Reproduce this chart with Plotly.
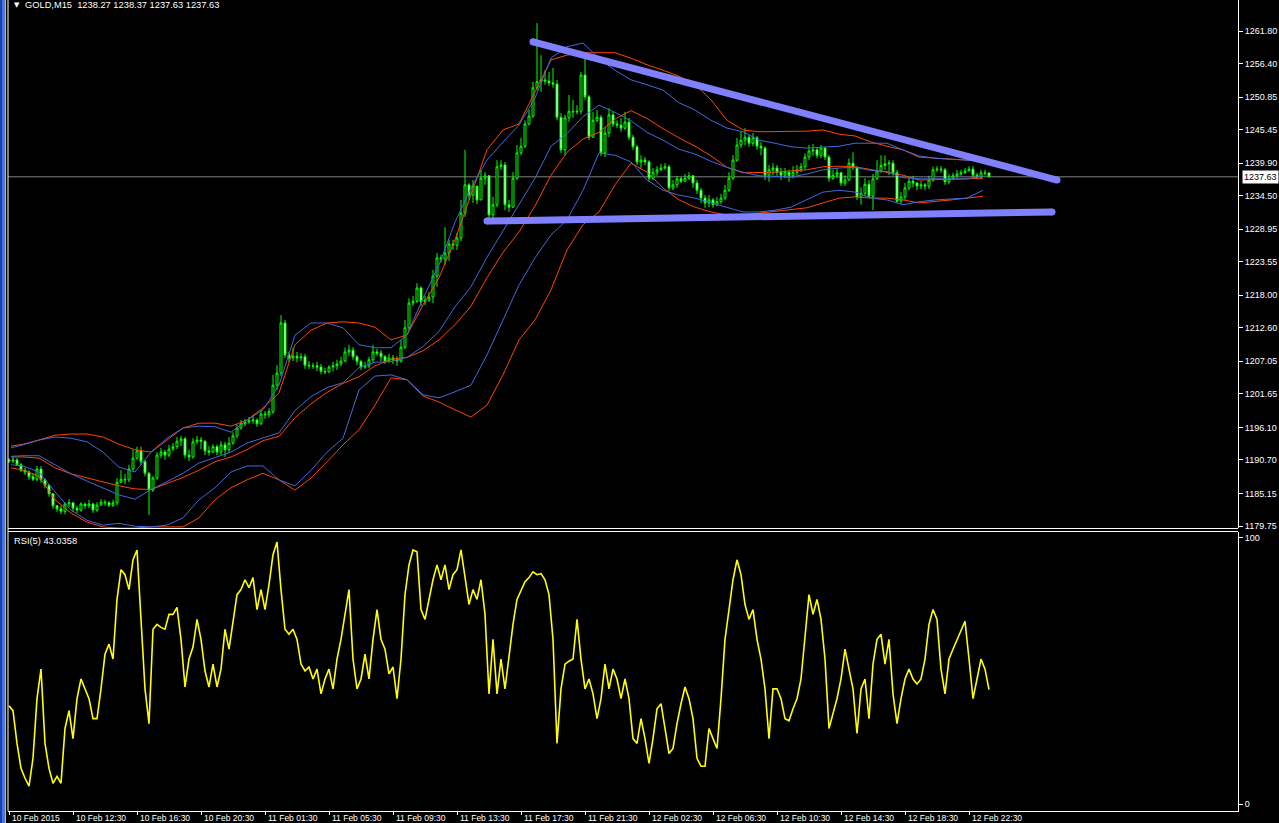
import numpy as np
import plotly.graph_objects as go

# ---------------- data ----------------
time_tick_bars = [0, 16, 32, 48, 64, 80, 96, 112, 128, 144, 160, 176, 192, 208, 224, 240]
time_tick_labels = ["10 Feb 2015", "10 Feb 12:30", "10 Feb 16:30", "10 Feb 20:30",
                    "11 Feb 01:30", "11 Feb 05:30", "11 Feb 09:30", "11 Feb 13:30",
                    "11 Feb 17:30", "11 Feb 21:30", "12 Feb 02:30", "12 Feb 06:30",
                    "12 Feb 10:30", "12 Feb 14:30", "12 Feb 18:30", "12 Feb 22:30"]
price_ticks = [1261.80, 1256.40, 1250.85, 1245.45, 1239.90, 1234.50, 1228.95, 1223.55,
               1218.00, 1212.60, 1207.05, 1201.65, 1196.10, 1190.70, 1185.15, 1179.75]
top_cut_tick = 1267.35
rsi_ticks = [0, 100]

first_open = 1190.7
closes = [
    1190.5, 1190.7, 1189.9, 1189.0, 1188.7, 1187.9, 1187.5, 1189.2, 1187.4, 1186.5,
    1185.1, 1183.1, 1182.6, 1182.2, 1183.4, 1183.6, 1182.7, 1182.4, 1183.4, 1183.1,
    1183.4, 1182.4, 1183.2, 1183.7, 1183.6, 1183.2, 1183.6, 1187.0, 1187.5, 1187.4,
    1189.2, 1191.0, 1192.2, 1190.4, 1188.5, 1185.7, 1187.7, 1191.5, 1192.0, 1191.5,
    1192.5, 1192.9, 1193.8, 1194.2, 1191.5, 1191.2, 1193.7, 1194.0, 1193.8, 1192.2,
    1192.0, 1192.9, 1192.0, 1193.2, 1192.4, 1193.5, 1194.7, 1196.0, 1196.7, 1197.0,
    1197.2, 1197.3, 1196.7, 1198.3, 1198.2, 1198.7, 1203.1, 1205.1, 1213.4, 1208.1,
    1207.6, 1207.9, 1207.6, 1207.8, 1206.4, 1206.3, 1206.3, 1206.1, 1205.4, 1205.3,
    1206.1, 1206.3, 1206.6, 1207.1, 1208.6, 1208.9, 1207.8, 1207.0, 1206.1, 1206.3,
    1207.3, 1208.6, 1208.4, 1207.8, 1207.1, 1207.6, 1207.3, 1207.1, 1209.4, 1212.6,
    1216.7, 1217.0, 1219.2, 1216.9, 1217.2, 1217.7, 1221.2, 1224.2, 1224.0, 1225.0,
    1226.5, 1226.3, 1227.5, 1231.6, 1236.3, 1234.6, 1236.1, 1233.8, 1237.4, 1237.8,
    1231.3, 1233.0, 1239.3, 1239.6, 1233.0, 1232.6, 1237.4, 1241.6, 1242.7, 1246.4,
    1247.7, 1252.4, 1253.4, 1253.7, 1253.5, 1253.2, 1253.0, 1247.5, 1242.1, 1247.4,
    1248.5, 1248.4, 1248.5, 1254.5, 1250.9, 1244.2, 1247.0, 1247.5, 1241.6, 1244.9,
    1247.9, 1246.4, 1246.2, 1245.7, 1246.7, 1244.2, 1242.6, 1240.1, 1240.4, 1240.1,
    1237.4, 1238.4, 1238.8, 1239.1, 1239.3, 1235.8, 1236.3, 1237.3, 1236.9, 1237.4,
    1237.8, 1236.6, 1235.4, 1234.1, 1233.3, 1233.8, 1233.0, 1233.5, 1234.1, 1235.4,
    1237.4, 1240.4, 1242.9, 1243.7, 1244.2, 1243.2, 1244.1, 1242.7, 1242.4, 1237.9,
    1238.8, 1239.1, 1238.4, 1237.9, 1238.4, 1237.8, 1238.4, 1238.8, 1239.3, 1240.9,
    1241.9, 1242.1, 1241.2, 1242.4, 1240.9, 1237.4, 1237.9, 1238.3, 1236.6, 1237.1,
    1239.9, 1239.1, 1234.3, 1234.9, 1236.4, 1234.4, 1237.3, 1238.6, 1239.5, 1239.8,
    1239.9, 1238.3, 1233.6, 1234.3, 1235.8, 1236.9, 1236.6, 1236.1, 1236.3, 1236.1,
    1237.1, 1238.8, 1238.9, 1238.8, 1236.8, 1237.4, 1237.8, 1238.1, 1238.3, 1238.6,
    1238.9, 1237.9, 1237.6, 1238.3, 1238.27, 1237.63]
highs = [
    1191.0, 1191.2, 1191.0, 1190.2, 1189.4, 1189.0, 1188.5, 1189.7, 1189.7, 1187.7,
    1186.7, 1185.1, 1183.2, 1183.1, 1183.7, 1184.2, 1183.7, 1183.1, 1183.7, 1183.6,
    1184.1, 1183.6, 1183.7, 1184.2, 1184.1, 1183.9, 1184.1, 1187.7, 1189.0, 1188.4,
    1189.9, 1192.4, 1192.9, 1192.9, 1190.7, 1188.7, 1188.0, 1192.0, 1192.7, 1192.4,
    1193.2, 1193.5, 1194.5, 1194.7, 1194.5, 1192.4, 1194.3, 1194.7, 1194.5, 1194.0,
    1193.0, 1193.3, 1193.2, 1193.8, 1193.7, 1194.5, 1195.3, 1196.6, 1197.3, 1197.5,
    1197.8, 1198.2, 1197.6, 1199.0, 1198.8, 1199.3, 1204.8, 1206.4, 1214.7, 1213.9,
    1208.6, 1209.3, 1208.6, 1208.4, 1208.3, 1207.1, 1206.8, 1207.0, 1206.6, 1206.0,
    1206.4, 1207.0, 1207.3, 1207.8, 1209.3, 1209.8, 1209.4, 1208.1, 1207.3, 1207.0,
    1207.8, 1209.8, 1209.1, 1208.9, 1208.1, 1208.3, 1208.1, 1207.9, 1210.6, 1213.9,
    1217.5, 1217.9, 1220.0, 1219.5, 1217.9, 1218.5, 1222.2, 1225.0, 1224.7, 1229.3,
    1227.2, 1227.2, 1228.3, 1233.8, 1242.1, 1236.6, 1237.1, 1235.4, 1238.8, 1238.4,
    1237.9, 1234.3, 1240.4, 1240.4, 1240.1, 1233.8, 1238.4, 1242.9, 1244.1, 1247.0,
    1248.7, 1253.4, 1263.1, 1257.8, 1255.3, 1255.0, 1255.7, 1253.7, 1248.2, 1247.9,
    1251.2, 1250.4, 1249.5, 1255.0, 1258.3, 1251.2, 1248.4, 1248.7, 1247.9, 1245.9,
    1249.0, 1248.4, 1247.0, 1247.4, 1248.4, 1247.4, 1244.6, 1242.9, 1241.2, 1240.9,
    1240.4, 1239.1, 1239.4, 1239.8, 1239.9, 1239.6, 1237.1, 1237.8, 1237.6, 1238.1,
    1238.4, 1237.9, 1237.1, 1235.8, 1234.6, 1234.6, 1234.1, 1234.3, 1234.8, 1236.3,
    1238.4, 1241.2, 1244.1, 1245.1, 1245.7, 1244.6, 1244.9, 1244.4, 1243.4, 1242.7,
    1239.6, 1239.9, 1239.6, 1239.1, 1239.1, 1238.8, 1239.4, 1239.6, 1239.9, 1241.5,
    1242.9, 1243.1, 1242.4, 1242.9, 1242.6, 1241.2, 1238.8, 1239.1, 1238.4, 1237.9,
    1240.7, 1241.7, 1239.4, 1235.9, 1237.4, 1237.1, 1238.1, 1240.4, 1241.2, 1241.2,
    1240.4, 1240.4, 1238.8, 1235.1, 1236.6, 1237.4, 1237.8, 1236.8, 1236.9, 1236.6,
    1237.8, 1239.3, 1239.4, 1239.4, 1239.1, 1238.1, 1238.3, 1238.8, 1238.8, 1239.1,
    1239.4, 1239.4, 1238.3, 1238.8, 1238.8, 1238.37]
lows = [
    1190.2, 1190.2, 1189.7, 1188.7, 1188.2, 1187.4, 1187.2, 1187.2, 1186.9, 1186.0,
    1184.6, 1182.6, 1182.1, 1181.7, 1181.7, 1182.9, 1182.1, 1181.9, 1182.1, 1182.6,
    1182.7, 1181.9, 1182.1, 1183.1, 1183.1, 1182.9, 1182.9, 1183.2, 1186.9, 1186.7,
    1187.0, 1188.9, 1190.7, 1189.9, 1188.0, 1181.6, 1185.4, 1187.4, 1191.0, 1190.7,
    1191.2, 1192.2, 1192.5, 1193.0, 1191.0, 1190.5, 1190.9, 1193.3, 1192.5, 1191.5,
    1191.4, 1191.9, 1191.5, 1191.5, 1191.2, 1191.9, 1193.2, 1194.3, 1195.7, 1196.3,
    1196.7, 1196.7, 1196.2, 1196.5, 1197.5, 1197.7, 1198.3, 1202.3, 1204.6, 1207.6,
    1206.9, 1207.1, 1206.9, 1207.1, 1205.8, 1205.8, 1205.8, 1205.4, 1204.9, 1204.9,
    1205.1, 1205.4, 1205.6, 1206.3, 1206.9, 1207.9, 1207.3, 1206.4, 1205.6, 1205.8,
    1205.9, 1206.9, 1207.9, 1207.1, 1206.6, 1206.8, 1206.6, 1206.3, 1206.8, 1209.1,
    1212.2, 1216.2, 1216.7, 1216.2, 1216.4, 1216.9, 1216.7, 1219.4, 1223.4, 1223.0,
    1223.7, 1225.5, 1225.5, 1227.0, 1231.0, 1233.8, 1233.3, 1233.1, 1233.8, 1236.3,
    1230.8, 1230.8, 1232.6, 1238.8, 1232.1, 1231.8, 1232.5, 1237.1, 1241.2, 1242.4,
    1246.1, 1247.4, 1252.0, 1251.7, 1252.9, 1252.7, 1252.4, 1247.0, 1241.6, 1241.2,
    1246.7, 1247.4, 1248.0, 1248.0, 1250.4, 1243.7, 1244.1, 1246.7, 1241.1, 1240.9,
    1244.2, 1245.9, 1245.7, 1245.1, 1245.4, 1243.7, 1242.1, 1239.6, 1239.1, 1239.6,
    1236.8, 1237.1, 1237.8, 1238.6, 1238.8, 1235.3, 1235.4, 1235.8, 1236.6, 1236.8,
    1237.1, 1235.8, 1234.8, 1233.3, 1232.5, 1232.6, 1232.5, 1232.8, 1233.1, 1233.8,
    1235.1, 1237.1, 1240.1, 1242.4, 1242.9, 1242.6, 1242.7, 1242.1, 1241.2, 1237.1,
    1236.8, 1237.9, 1237.8, 1237.1, 1237.4, 1236.8, 1237.4, 1237.9, 1238.4, 1238.8,
    1240.4, 1241.1, 1240.7, 1240.7, 1240.4, 1236.8, 1237.1, 1237.4, 1236.1, 1236.1,
    1236.9, 1238.8, 1233.8, 1233.0, 1234.4, 1234.1, 1232.1, 1237.1, 1238.3, 1238.8,
    1237.9, 1237.8, 1233.3, 1233.1, 1233.8, 1235.4, 1235.9, 1235.4, 1235.6, 1235.4,
    1235.6, 1236.8, 1238.4, 1238.3, 1236.3, 1236.4, 1237.3, 1237.4, 1237.8, 1238.1,
    1238.6, 1237.6, 1237.3, 1237.4, 1237.9, 1237.63]

rsi5 = [
    36.9, 35.1, 22.8, 13.4, 9.7, 6.7, 17.2, 39.6, 50.7, 22.8,
    13.4, 7.8, 10.4, 7.8, 28.4, 35.1, 24.6, 39.6, 47.0, 43.3,
    39.6, 32.1, 32.1, 43.3, 56.3, 60.1, 54.5, 76.9, 88.1, 86.2,
    80.6, 91.8, 95.5, 69.4, 43.3, 30.2, 65.7, 67.5, 66.4, 65.7,
    71.3, 71.3, 73.9, 61.9, 44.0, 54.5, 59.0, 69.4, 61.9, 50.0,
    44.0, 52.6, 44.0, 50.7, 65.7, 58.2, 69.4, 78.7, 80.6, 84.3,
    81.3, 85.1, 73.1, 80.6, 73.1, 82.5, 93.7, 98.5, 80.6, 65.7,
    63.8, 65.7, 61.9, 52.6, 50.0, 51.5, 47.0, 50.7, 41.4, 47.0,
    50.7, 43.3, 54.5, 61.9, 71.3, 80.6, 54.5, 43.3, 47.0, 56.3,
    47.0, 61.9, 73.1, 61.9, 58.2, 48.9, 51.5, 39.6, 54.5, 78.7,
    89.9, 95.5, 94.8, 73.1, 69.4, 76.9, 84.3, 89.9, 84.3, 89.9,
    80.6, 86.2, 88.1, 95.5, 84.3, 75.0, 80.6, 76.9, 84.3, 71.3,
    41.4, 61.9, 41.4, 54.5, 43.3, 56.3, 67.5, 76.9, 80.6, 83.6,
    85.1, 87.3, 86.2, 86.6, 84.3, 78.7, 61.9, 22.8, 43.3, 52.6,
    53.7, 54.5, 69.4, 54.5, 43.3, 47.0, 41.4, 32.1, 39.6, 52.6,
    43.3, 50.7, 47.0, 39.6, 47.0, 39.6, 24.6, 22.8, 32.1, 24.6,
    15.3, 24.6, 35.8, 37.7, 28.4, 19.0, 20.9, 30.2, 37.7, 44.0,
    39.6, 32.1, 17.2, 14.2, 14.2, 28.4, 24.6, 20.9, 39.6, 61.9,
    73.1, 84.3, 91.8, 86.2, 75.0, 69.4, 73.1, 61.9, 54.5, 43.3,
    24.6, 43.3, 43.3, 39.6, 32.1, 31.3, 35.8, 39.6, 47.0, 61.9,
    78.7, 71.3, 76.9, 69.4, 54.5, 28.4, 34.0, 39.6, 47.0, 58.2,
    50.7, 43.3, 26.5, 43.3, 47.0, 32.1, 52.6, 61.9, 63.8, 52.6,
    61.9, 41.4, 30.2, 39.6, 47.0, 50.7, 47.0, 45.1, 47.0, 54.5,
    67.5, 73.1, 69.4, 50.7, 41.4, 54.5, 58.2, 61.9, 64.9, 68.7,
    54.5, 39.6, 47.0, 54.5, 50.7, 43.0358]

# higher-timeframe (H1) Bollinger bands on the M15 chart: one value per hour
bars_per_h1 = [2] + [4] * 61
red_upper_h1 = [
    1193.0, 1193.3, 1194.0, 1194.8, 1195.0, 1195.0, 1194.5, 1193.3, 1192.4, 1192.0,
    1194.0, 1196.0, 1196.8, 1196.8, 1196.3, 1197.3, 1199.3, 1201.8, 1209.8, 1212.2,
    1213.4, 1213.6, 1213.4, 1212.7, 1210.6, 1211.4, 1216.4, 1220.9, 1227.2, 1234.6,
    1242.1, 1245.4, 1246.4, 1251.7, 1257.0, 1257.8, 1258.2, 1258.2, 1258.2, 1257.3,
    1256.2, 1255.3, 1254.3, 1252.9, 1250.4, 1247.0, 1245.4, 1245.1, 1245.1, 1245.1,
    1245.2, 1245.4, 1244.7, 1244.4, 1243.4, 1242.7, 1242.1, 1240.9, 1240.7, 1240.6,
    1240.4, 1240.4]
red_mid_h1 = [
    1191.2, 1191.2, 1191.0, 1189.4, 1188.4, 1187.7, 1187.0, 1186.4, 1185.9, 1185.8,
    1186.8, 1187.8, 1189.0, 1190.4, 1191.2, 1192.4, 1193.9, 1194.6, 1197.7, 1200.0,
    1201.9, 1203.4, 1204.5, 1206.3, 1207.4, 1207.7, 1208.8, 1210.6, 1213.1, 1216.2,
    1220.9, 1225.1, 1228.5, 1232.8, 1237.9, 1241.7, 1243.9, 1245.0, 1247.2, 1248.6,
    1247.3, 1245.6, 1244.1, 1242.7, 1241.1, 1239.2, 1238.3, 1238.3, 1238.4, 1238.6,
    1238.8, 1239.3, 1239.4, 1239.3, 1238.8, 1238.4, 1237.9, 1237.1, 1237.1, 1237.2,
    1237.3, 1237.4]
red_lower_h1 = [
    1189.4, 1189.0, 1188.0, 1184.1, 1181.9, 1180.4, 1179.6, 1179.4, 1179.4, 1179.6,
    1179.6, 1179.6, 1181.1, 1184.1, 1186.1, 1187.4, 1188.5, 1187.4, 1185.7, 1187.7,
    1190.4, 1193.2, 1195.7, 1199.8, 1204.3, 1204.0, 1201.3, 1200.3, 1199.0, 1197.8,
    1199.8, 1204.8, 1210.6, 1213.9, 1218.9, 1225.5, 1229.7, 1231.8, 1236.3, 1239.9,
    1238.4, 1235.8, 1233.8, 1232.6, 1231.8, 1231.3, 1231.3, 1231.6, 1231.8, 1232.1,
    1232.5, 1233.3, 1234.1, 1234.3, 1234.1, 1234.1, 1233.8, 1233.3, 1233.5, 1233.8,
    1234.1, 1234.4]
blue_upper_h1 = [
    1192.7, 1193.2, 1194.0, 1194.5, 1194.3, 1193.7, 1192.0, 1189.5, 1188.7, 1192.0,
    1194.3, 1196.0, 1196.3, 1196.2, 1195.3, 1197.3, 1199.0, 1203.1, 1211.4, 1213.4,
    1213.4, 1212.6, 1209.8, 1209.3, 1209.3, 1211.4, 1217.5, 1223.0, 1230.1, 1235.8,
    1240.4, 1243.4, 1246.2, 1250.7, 1257.3, 1259.2, 1259.8, 1257.3, 1255.3, 1253.7,
    1252.9, 1252.0, 1249.9, 1248.7, 1247.0, 1245.7, 1245.1, 1243.7, 1243.2, 1242.6,
    1242.4, 1242.6, 1242.7, 1243.2, 1243.2, 1243.2, 1242.1, 1241.1, 1240.7, 1240.6,
    1240.4, 1240.1]
blue_mid_h1 = [
    1191.3, 1191.4, 1191.4, 1189.9, 1188.4, 1187.2, 1186.0, 1184.9, 1184.2, 1185.8,
    1187.1, 1188.5, 1190.2, 1191.1, 1192.0, 1193.5, 1194.3, 1195.2, 1198.9, 1201.2,
    1202.7, 1203.5, 1206.0, 1206.9, 1207.0, 1207.7, 1209.5, 1212.0, 1216.1, 1219.4,
    1224.3, 1228.7, 1233.0, 1237.4, 1242.7, 1244.8, 1247.6, 1249.5, 1248.3, 1246.9,
    1245.0, 1243.7, 1242.2, 1241.4, 1240.2, 1239.2, 1238.4, 1237.8, 1237.7, 1237.6,
    1238.1, 1238.8, 1239.1, 1239.2, 1238.7, 1238.5, 1237.5, 1237.3, 1237.3, 1237.3,
    1237.3, 1237.8]
blue_lower_h1 = [
    1189.9, 1189.7, 1188.7, 1185.4, 1182.4, 1180.7, 1179.9, 1180.2, 1179.7, 1179.6,
    1179.9, 1181.1, 1184.1, 1186.1, 1188.7, 1189.7, 1189.7, 1187.4, 1186.4, 1189.0,
    1192.0, 1194.3, 1202.3, 1204.6, 1204.8, 1204.0, 1201.5, 1201.0, 1202.0, 1203.1,
    1208.1, 1213.9, 1219.7, 1224.2, 1228.0, 1230.5, 1235.4, 1241.6, 1241.2, 1240.1,
    1237.1, 1235.4, 1234.6, 1234.1, 1233.3, 1232.6, 1231.8, 1231.8, 1232.1, 1232.6,
    1233.8, 1235.1, 1235.4, 1235.1, 1234.1, 1233.8, 1233.0, 1233.5, 1233.8, 1234.0,
    1234.1, 1235.4]

# hand-drawn trend lines (bar index, price)
trend_upper_bars = [131.0, 262.0]
trend_upper_prices = [1260.0, 1237.1]
trend_lower_bars = [119.5, 260.75]
trend_lower_prices = [1230.3, 1231.8]

symbol_header = "GOLD,M15  1238.27 1238.37 1237.63 1237.63"
rsi_header = "RSI(5) 43.0358"
last_price = 1237.63

# ---------------- layout constants ----------------
W, H = 1279, 823
ML, MR, MT, MB = 8, 41, 0, 12
PW, PH = W - ML - MR, H - MT - MB
PX_PER_BAR = 4
x_range = [-0.25, -0.25 + PW / PX_PER_BAR]


def yf(px):
    return 1 - (px - MT) / PH


def xf(px):
    return (px - ML) / PW


MAIN_BOTTOM_PX = 528
RSI_TOP_PX = 531.5
main_domain = [yf(MAIN_BOTTOM_PX), 1.0]
rsi_domain = [0.0, yf(RSI_TOP_PX)]
main_range = [1179.42, 1266.94]
rsi_range = [-2.61, 102.43]

FONT = "Liberation Sans, Arial, sans-serif"
RED = "#FF4500"
BLUE = "#4169E1"
GREEN = "#00FF00"
TREND = "#8080FF"

n = len(closes)
bars = list(range(n))
opens = [first_open] + closes[:-1]

# centre bar of every H1 group
h1_end = np.cumsum(bars_per_h1)
h1_center = h1_end - np.array(bars_per_h1) + (np.array(bars_per_h1) - 1) / 2.0

fig = go.Figure()

fig.add_trace(go.Candlestick(
    x=bars, open=opens, high=highs, low=lows, close=closes,
    increasing=dict(line=dict(color=GREEN, width=1), fillcolor="black"),
    decreasing=dict(line=dict(color=GREEN, width=1), fillcolor="white"),
    whiskerwidth=0, hoverinfo="skip", xaxis="x", yaxis="y"))

for vals, col in [(red_upper_h1, RED), (red_mid_h1, RED), (red_lower_h1, RED),
                  (blue_upper_h1, BLUE), (blue_mid_h1, BLUE), (blue_lower_h1, BLUE)]:
    fig.add_trace(go.Scatter(x=h1_center, y=vals, mode="lines",
                             line=dict(color=col, width=1), hoverinfo="skip",
                             xaxis="x", yaxis="y"))

for bx, py in [(trend_upper_bars, trend_upper_prices), (trend_lower_bars, trend_lower_prices)]:
    fig.add_trace(go.Scatter(x=bx, y=py, mode="lines+markers",
                             line=dict(color=TREND, width=7),
                             marker=dict(color=TREND, size=7),
                             hoverinfo="skip", xaxis="x", yaxis="y"))

fig.add_trace(go.Scatter(x=bars, y=rsi5, mode="lines",
                         line=dict(color="#FFFF00", width=1.6),
                         hoverinfo="skip", xaxis="x", yaxis="y2"))

shapes = [
    dict(type="line", xref="paper", yref="y", x0=0, x1=1, y0=last_price, y1=last_price,
         line=dict(color="#808080", width=1), layer="below"),
    dict(type="line", xref="paper", yref="paper", x0=0, x1=0, y0=0, y1=1,
         line=dict(color="white", width=1)),
    dict(type="line", xref="paper", yref="paper", x0=0, x1=1,
         y0=yf(MAIN_BOTTOM_PX + 0.5), y1=yf(MAIN_BOTTOM_PX + 0.5),
         line=dict(color="white", width=1)),
    dict(type="line", xref="paper", yref="paper", x0=0, x1=1,
         y0=yf(RSI_TOP_PX), y1=yf(RSI_TOP_PX),
         line=dict(color="white", width=1)),
    dict(type="rect", xref="paper", yref="paper", x0=xf(0), x1=xf(2), y0=yf(H), y1=1,
         fillcolor="#1F3FB0", line=dict(width=0)),
    dict(type="rect", xref="paper", yref="paper", x0=xf(2), x1=xf(4.5), y0=yf(H), y1=1,
         fillcolor="#3C78F0", line=dict(width=0)),
    dict(type="rect", xref="paper", yref="paper", x0=xf(4.5), x1=xf(6), y0=yf(H), y1=1,
         fillcolor="#9CB8F8", line=dict(width=0)),
]

annotations = [
    dict(text="▼", xref="paper", yref="paper", x=xf(12), y=yf(5), xanchor="left",
         yanchor="middle", showarrow=False, font=dict(family="DejaVu Sans", size=7, color="white")),
    dict(text=symbol_header, xref="paper", yref="paper", x=xf(23), y=yf(5), xanchor="left",
         yanchor="middle", showarrow=False, font=dict(family=FONT, size=9.3, color="white")),
    dict(text=rsi_header, xref="paper", yref="paper", x=xf(12), y=yf(540.5), xanchor="left",
         yanchor="middle", showarrow=False, font=dict(family=FONT, size=9.3, color="white")),
    dict(text=f"{last_price:.2f}", xref="paper", yref="y", x=1, y=last_price, xanchor="left",
         yanchor="middle", xshift=4, showarrow=False, bgcolor="white", borderpad=1,
         font=dict(family=FONT, size=9, color="black")),
    dict(text=f"{top_cut_tick:.2f}", xref="paper", yref="y", x=1, y=top_cut_tick, xanchor="left",
         yanchor="middle", xshift=6, showarrow=False,
         font=dict(family=FONT, size=9, color="white")),
]
for b, lab in zip(time_tick_bars, time_tick_labels):
    annotations.append(dict(text=lab, xref="x", yref="paper", x=b, y=0, xanchor="left",
                            yanchor="top", xshift=1, yshift=0, showarrow=False,
                            font=dict(family=FONT, size=8.5, color="white")))

fig.update_layout(
    width=W, height=H, margin=dict(l=ML, r=MR, t=MT, b=MB, pad=0),
    paper_bgcolor="black", plot_bgcolor="black", showlegend=False,
    font=dict(family=FONT, size=9, color="white"),
    xaxis=dict(domain=[0, 1], range=x_range, anchor="y2", showgrid=False, zeroline=False,
               showline=True, linecolor="white", linewidth=1, ticks="outside", ticklen=3,
               tickcolor="white", tickvals=time_tick_bars, showticklabels=False,
               rangeslider=dict(visible=False), fixedrange=True),
    yaxis=dict(domain=main_domain, range=main_range, side="right", anchor="x",
               showgrid=False, zeroline=False, showline=True, linecolor="white", linewidth=1,
               ticks="outside", ticklen=4, tickcolor="white", tickvals=price_ticks,
               ticktext=[f"{v:.2f}" for v in price_ticks],
               tickfont=dict(family=FONT, size=9, color="white"), fixedrange=True),
    yaxis2=dict(domain=rsi_domain, range=rsi_range, side="right", anchor="x",
                showgrid=False, zeroline=False, showline=True, linecolor="white", linewidth=1,
                ticks="outside", ticklen=4, tickcolor="white", tickvals=rsi_ticks,
                ticktext=[str(v) for v in rsi_ticks],
                tickfont=dict(family=FONT, size=9, color="white"), fixedrange=True),
    boxgap=0.3,
    shapes=shapes, annotations=annotations,
)

fig.write_html("out.html", config={"displayModeBar": False, "staticPlot": True},
               post_script="document.body.style.margin='0';document.body.style.overflow='hidden';")
